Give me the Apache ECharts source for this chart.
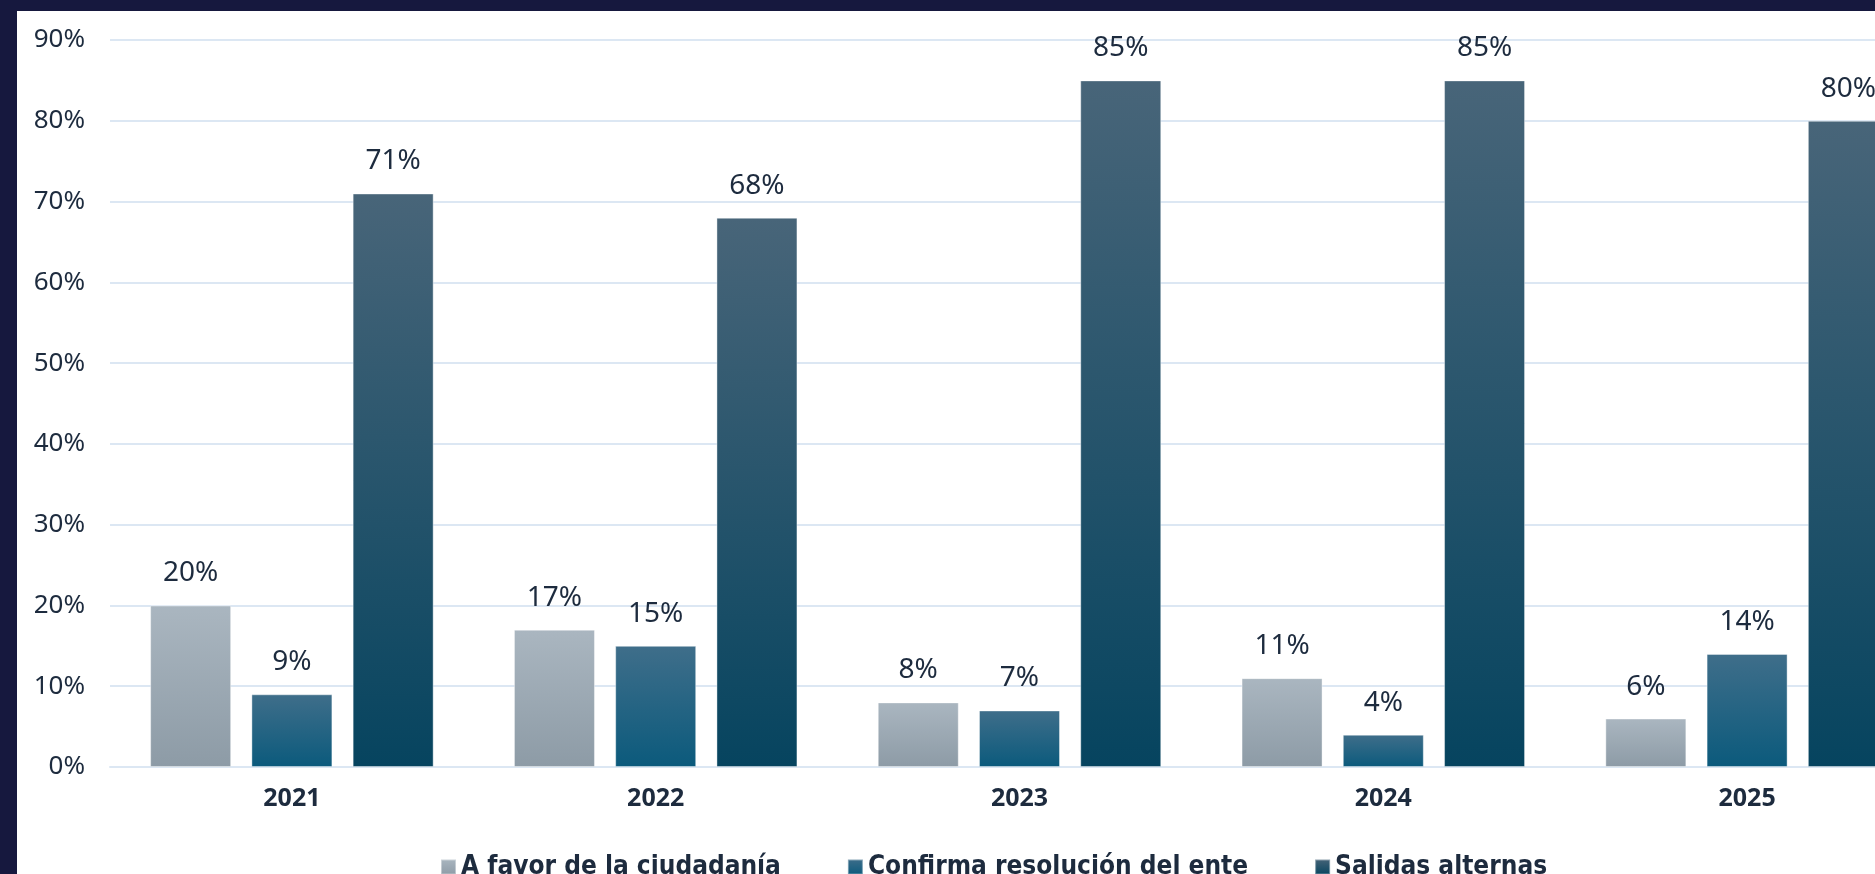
<!DOCTYPE html>
<html>
<head>
<meta charset="utf-8">
<script src="https://cdn.jsdelivr.net/npm/echarts@6/dist/echarts.min.js"></script>
<style>
  html, body { margin: 0; padding: 0; background: #16183e; width: 1875px; height: 874px; overflow: hidden; }
  #chart { position: absolute; left: 17px; top: 11px; width: 1960px; height: 863px; background: #ffffff; }
</style>
</head>
<body>
<div id="chart"></div>
<script>
var years = ['2021', '2022', '2023', '2024', '2025'];
var aFavor = [20, 17, 8, 11, 6];
var confirma = [9, 15, 7, 4, 14];
var salidas = [71, 68, 85, 85, 80];
var seriesNames = ['A favor de la ciudadanía', 'Confirma resolución del ente', 'Salidas alternas'];

var textColor = '#1d2b3e';

function grad(top, bottom) {
    return new echarts.graphic.LinearGradient(0, 0, 0, 1, [
        { offset: 0, color: top },
        { offset: 1, color: bottom }
    ]);
}

function barSeries(name, data, top, bottom) {
    return {
        name: name,
        type: 'bar',
        data: data,
        barWidth: 81,
        barGap: '25%',
        itemStyle: { color: grad(top, bottom), borderColor: 'rgba(255,255,255,0.4)', borderWidth: 1 },
        label: {
            show: true,
            position: 'top',
            distance: 18,
            formatter: '{c}%',
            color: textColor,
            fontSize: 28,
            fontFamily: 'Noto Sans'
        }
    };
}

var myChart = echarts.init(document.getElementById('chart'));
var option = {
    animation: false,
    backgroundColor: '#ffffff',
    grid: { left: 93, top: 29, width: 1819, height: 727, containLabel: false },
    legend: {
        left: 418,
        top: 838,
        itemWidth: 15,
        itemHeight: 15,
        itemGap: 66,
        icon: 'rect',
        textStyle: { color: textColor, fontSize: 26, fontWeight: 'bold', fontFamily: "'DejaVu Sans Condensed', Roboto, sans-serif" },
        data: [
            { name: seriesNames[0], itemStyle: { color: grad('#aab6c0', '#8d9ba6') } },
            { name: seriesNames[1], itemStyle: { color: grad('#3e6d8a', '#0b5a7c') } },
            { name: seriesNames[2], itemStyle: { color: grad('#476478', '#06445f') } }
        ]
    },
    xAxis: {
        type: 'category',
        data: years,
        axisLine: { show: true, lineStyle: { color: '#dce7f3', width: 2 } },
        axisTick: { show: false },
        axisLabel: { color: textColor, fontSize: 25, fontWeight: 'bold', fontFamily: 'Noto Sans', margin: 19 }
    },
    yAxis: {
        type: 'value',
        min: 0,
        max: 90,
        interval: 10,
        axisLine: { show: false },
        axisTick: { show: false },
        splitLine: { lineStyle: { color: '#dce7f3', width: 2 } },
        axisLabel: { formatter: '{value}%', color: textColor, fontSize: 26, fontFamily: 'Noto Sans', margin: 25 }
    },
    series: [
        barSeries(seriesNames[0], aFavor, '#aab6c0', '#8d9ba6'),
        barSeries(seriesNames[1], confirma, '#3f6e8a', '#0b5a7c'),
        barSeries(seriesNames[2], salidas, '#486579', '#06445f')
    ]
};
myChart.setOption(option);
</script>
</body>
</html>
